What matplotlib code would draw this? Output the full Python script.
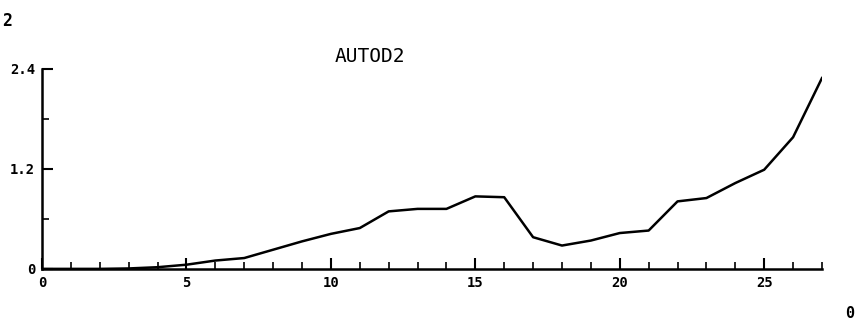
import numpy as np
import matplotlib
matplotlib.use("Agg")
import matplotlib.pyplot as plt

# AUTOD2 curve, one value per integer step
steps = list(range(0, 28))
autod2 = [0.0, 0.0, 0.0, 0.005, 0.02, 0.05, 0.10, 0.13, 0.23, 0.33, 0.42, 0.49,
          0.69, 0.72, 0.72, 0.87, 0.86, 0.38, 0.28, 0.34, 0.43, 0.46, 0.81, 0.85,
          1.03, 1.19, 1.58, 2.29]

xticks = [0, 5, 10, 15, 20, 25]
xtick_labels = ['0', '5', '10', '15', '20', '25']
yticks = [0, 1.2, 2.4]
ytick_labels = ['0', '1.2', '2.4']

font = 'DejaVu Sans Mono'

fig = plt.figure(figsize=(8.58, 3.22), dpi=100)
ax = fig.add_axes([0.049, 0.165, 0.909, 0.621])

ax.plot(steps, autod2, color='k', lw=1.8)

ax.set_xlim(0, 27)
ax.set_ylim(0, 2.4)
ax.spines['top'].set_visible(False)
ax.spines['right'].set_visible(False)
ax.spines['left'].set_linewidth(1.8)
ax.spines['bottom'].set_linewidth(1.8)

ax.set_xticks(xticks)
ax.set_xticklabels(xtick_labels, family=font, weight='bold', fontsize=10)
ax.set_xticks(range(0, 28), minor=True)
ax.set_yticks(yticks)
ax.set_yticklabels(ytick_labels, family=font, weight='bold', fontsize=10)
ax.set_yticks([0.6, 1.8], minor=True)
ax.tick_params(axis='x', which='major', pad=5)
ax.tick_params(axis='y', which='major', pad=5)
ax.tick_params(axis='both', which='major', direction='in', length=8, width=1.5)
ax.tick_params(axis='both', which='minor', direction='in', length=5, width=1.2)

ax.text(11.35, 2.545, 'AUTOD2', family=font, fontsize=14, ha='center', va='center',
        clip_on=False)

fig.text(0.002, 0.935, '2', family=font, weight='bold', fontsize=12, ha='left', va='center')
fig.text(0.985, 0.025, '0', family=font, weight='bold', fontsize=11, ha='left', va='center')

fig.savefig('out.png', dpi=100)
